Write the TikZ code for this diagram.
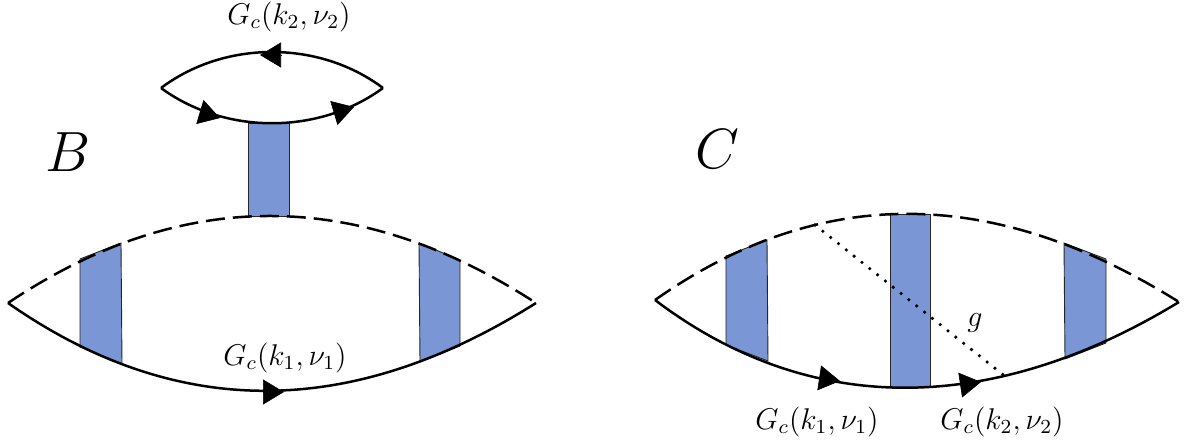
\documentclass[tikz,border=0pt]{standalone}
\usetikzlibrary{arrows.meta}
\definecolor{barblue}{RGB}{123,150,212}
\tikzset{
  prop/.style={line width=1.25pt},
  dashprop/.style={line width=1.25pt,dash pattern=on 9.5pt off 4pt},
  bar/.style={fill=barblue,draw=black!85,line width=0.45pt},
  tiptri/.style={-{Triangle[length=10.5pt,width=12.5pt,inset=0pt]},line width=0.3pt,shorten >=0pt},
  gluon/.style={line width=1.8pt,line cap=round,dash pattern=on 0pt off 5pt},
  lab/.style={font=\large,scale=1.25,inner sep=0pt},
  biglab/.style={font=\Huge,scale=1.14,inner sep=0pt},
}
\begin{document}
\begin{tikzpicture}[x=0.5pt,y=-0.5pt]
\useasboundingbox (0,0) rectangle (1190,443);
% coordinates
\coordinate (BL) at (8,303);
\coordinate (BR) at (536,303);
\coordinate (TL) at (161,88);
\coordinate (TR) at (383,88);
\coordinate (CL) at (655,300);
\coordinate (CR) at (1179,302);
\coordinate (g1) at (815,225);
\coordinate (g2) at (1006,377);
% bars, panel B
\draw[bar] (248,123) -- (289,123) -- (289,216) -- (248,216) -- cycle;
\draw[bar] (80,259) -- (121,243) -- (122,364) -- (80,347) -- cycle;
\draw[bar] (419,243) -- (460,260) -- (460,346) -- (420,362) -- cycle;
% bars, panel C
\draw[bar] (726,256) -- (767,240) -- (768,361) -- (726,345) -- cycle;
\draw[bar] (890,214) -- (930,214) -- (930,387) -- (890,387) -- cycle;
\draw[bar] (1064,243) -- (1106,259) -- (1106,343) -- (1065,359) -- cycle;
% propagators, panel B
\draw[dashprop] (BL) .. controls (184,185) and (360,189) .. (BR);
\draw[prop] (BL) .. controls (184,426) and (360,414) .. (BR);
\draw[prop] (TL) .. controls (225,40) and (319,40) .. (TR);
\draw[prop] (TL) .. controls (225,135) and (319,135) .. (TR);
% propagators, panel C
\draw[dashprop] (CL) .. controls (830,177) and (1005,193) .. (CR);
\draw[prop] (CL) .. controls (820,425) and (1005,408) .. (CR);
\draw[gluon] (g1) -- (g2);
% arrowheads
\coordinate (a1s) at (263,392); \coordinate (a1e) at (284,392);
\coordinate (a2s) at (281,55);  \coordinate (a2e) at (260,55);
\coordinate (a3s) at (200,112); \coordinate (a3e) at (220,118);
\coordinate (a4s) at (334,113); \coordinate (a4e) at (354,107);
\coordinate (a5s) at (820,378); \coordinate (a5e) at (840,381);
\coordinate (a6s) at (961,385); \coordinate (a6e) at (981,382);
\foreach \s/\e in {a1s/a1e,a2s/a2e,a3s/a3e,a4s/a4e,a5s/a5e,a6s/a6e}
  \draw[tiptri] (\s) -- (\e);
% labels
\node[lab] (l1) at (289,17) {$G_c(k_2,\nu_2)$};
\node[lab] (l2) at (285,358) {$G_c(k_1,\nu_1)$};
\node[lab] (l3) at (817,422) {$G_c(k_1,\nu_1)$};
\node[lab] (l4) at (1002,422) {$G_c(k_2,\nu_2)$};
\node[lab] (l5) at (975,323) {$g$};
\node[biglab] (l6) at (68,152) {$B$};
\node[biglab] (l7) at (717,149) {$C$};
\end{tikzpicture}
\end{document}
